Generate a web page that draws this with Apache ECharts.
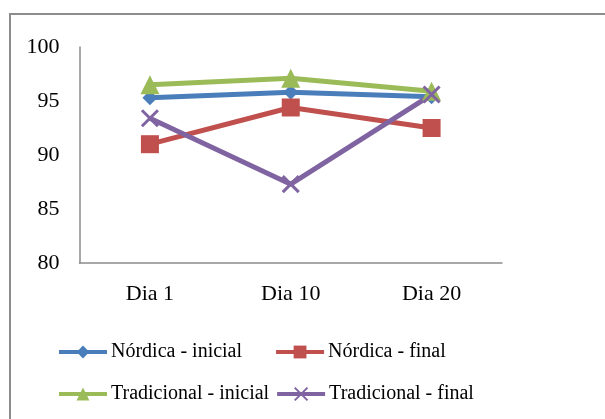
<!DOCTYPE html>
<html>
<head>
<meta charset="utf-8">
<script src="https://cdn.jsdelivr.net/npm/echarts@6/dist/echarts.min.js"></script>
<style>html,body{margin:0;padding:0;background:#fff}#c{width:605px;height:419px}</style>
</head>
<body>
<div id="c"></div>
<script>
const categories = ['Dia 1', 'Dia 10', 'Dia 20'];
const nordicaInicial = [95.3, 95.8, 95.4];
const nordicaFinal = [91.0, 94.4, 92.5];
const tradicionalInicial = [96.5, 97.1, 95.9];
const tradicionalFinal = [93.4, 87.3, 95.6];
const yTicks = [80, 85, 90, 95, 100];

const font = '"Liberation Serif", "Times New Roman", serif';
const chart = echarts.init(document.getElementById('c'), null, {renderer: 'canvas'});

function mk(name, data, color, symbol, size, itemStyle) {
  return {
    name, type: 'line', data, symbol, symbolSize: size,
    lineStyle: {color: color, width: 5},
    itemStyle: itemStyle || {color: color, borderColor: color, borderWidth: 0},
    emphasis: {disabled: true},
    animation: false
  };
}
const xSym = 'path://M0,0 L10,10 M10,0 L0,10';

const legendCommon = {
  padding: 0,
  itemWidth: 48, itemHeight: 16,
  textStyle: {fontFamily: font, fontSize: 20, color: '#000', padding: [0, 0, 0, -1]},
  lineStyle: {width: 4}
};

chart.setOption({
  animation: false,
  graphic: [{
    type: 'rect', shape: {x: 10, y: 14, width: 700, height: 500},
    style: {fill: 'none', stroke: '#8c8c8c', lineWidth: 2}, silent: true, z: -1
  }],
  grid: {left: 79.5, right: 103, top: 47, bottom: 156},
  xAxis: {
    type: 'category', data: categories, boundaryGap: true,
    axisLine: {lineStyle: {color: '#8c8c8c', width: 1.5}},
    axisTick: {show: false},
    axisLabel: {color: '#000', fontFamily: font, fontSize: 22, margin: 20}
  },
  yAxis: {
    type: 'value', min: yTicks[0], max: yTicks[yTicks.length - 1], interval: 5,
    axisLine: {show: true, lineStyle: {color: '#8c8c8c', width: 1.5}},
    axisTick: {show: false},
    splitLine: {show: false},
    axisLabel: {color: '#000', fontFamily: font, fontSize: 22, margin: 20}
  },
  legend: [Object.assign({
    left: 57, top: 342, itemGap: 32,
    data: ['Nórdica - inicial', 'Nórdica - final']
  }, legendCommon), Object.assign({
    left: 57, top: 384, itemGap: 6,
    data: ['Tradicional - inicial', 'Tradicional - final']
  }, legendCommon)],
  series: [
    mk('Nórdica - inicial', nordicaInicial, '#4a7ebb', 'diamond', 15),
    mk('Nórdica - final', nordicaFinal, '#c0504d', 'rect', 18),
    mk('Tradicional - inicial', tradicionalInicial, '#9bbb59', 'triangle', 19),
    mk('Tradicional - final', tradicionalFinal, '#8064a2', xSym, 16,
       {color: 'none', borderColor: '#8064a2', borderWidth: 3})
  ]
});
</script>
</body>
</html>
